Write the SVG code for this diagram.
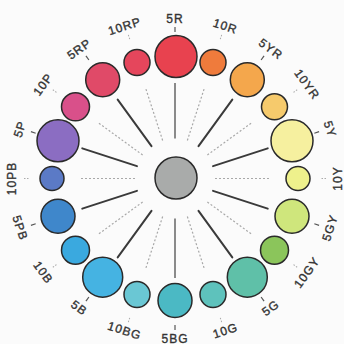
<svg xmlns="http://www.w3.org/2000/svg" width="344" height="344" viewBox="0 0 344 344">
<style>
.c{stroke:#2a2a2a;stroke-width:1.5}
.t{font-family:"Liberation Sans",Arial,sans-serif;font-size:12px;fill:#333;stroke:#333;stroke-width:0.35;text-anchor:middle;dominant-baseline:central;letter-spacing:1px}
.s{stroke:#3a3a3a;stroke-width:2;stroke-linecap:round}
.sv{stroke:#8a8a8a;stroke-width:2}
.d{stroke:#a8a8a8;stroke-width:1.2;stroke-dasharray:2 2}
.tk{stroke:#555;stroke-width:1.2}
.tkd{stroke:#aaa;stroke-width:1;stroke-dasharray:1.5 1.5}
</style>
<rect width="344" height="344" fill="#fbfbfb"/>
<g id="connectors">
<line class="sv" x1="175" y1="138.5" x2="175" y2="83" transform="rotate(0 175 178.5)"/>
<line class="d" x1="175" y1="138.5" x2="175" y2="84" transform="rotate(18 175 178.5)"/>
<line class="s" x1="175" y1="138.5" x2="175" y2="81" transform="rotate(36 175 178.5)"/>
<line class="d" x1="175" y1="138.5" x2="175" y2="84" transform="rotate(54 175 178.5)"/>
<line class="s" x1="175" y1="138.5" x2="175" y2="81" transform="rotate(72 175 178.5)"/>
<line class="d" x1="175" y1="138.5" x2="175" y2="84" transform="rotate(90 175 178.5)"/>
<line class="s" x1="175" y1="138.5" x2="175" y2="81" transform="rotate(108 175 178.5)"/>
<line class="d" x1="175" y1="138.5" x2="175" y2="84" transform="rotate(126 175 178.5)"/>
<line class="s" x1="175" y1="138.5" x2="175" y2="81" transform="rotate(144 175 178.5)"/>
<line class="d" x1="175" y1="138.5" x2="175" y2="84" transform="rotate(162 175 178.5)"/>
<line class="sv" x1="175" y1="138.5" x2="175" y2="79" transform="rotate(180 175 178.5)"/>
<line class="d" x1="175" y1="138.5" x2="175" y2="84" transform="rotate(198 175 178.5)"/>
<line class="s" x1="175" y1="138.5" x2="175" y2="81" transform="rotate(216 175 178.5)"/>
<line class="d" x1="175" y1="138.5" x2="175" y2="84" transform="rotate(234 175 178.5)"/>
<line class="s" x1="175" y1="138.5" x2="175" y2="81" transform="rotate(252 175 178.5)"/>
<line class="d" x1="175" y1="138.5" x2="175" y2="84" transform="rotate(270 175 178.5)"/>
<line class="s" x1="175" y1="138.5" x2="175" y2="81" transform="rotate(288 175 178.5)"/>
<line class="d" x1="175" y1="138.5" x2="175" y2="84" transform="rotate(306 175 178.5)"/>
<line class="s" x1="175" y1="138.5" x2="175" y2="81" transform="rotate(324 175 178.5)"/>
<line class="d" x1="175" y1="138.5" x2="175" y2="84" transform="rotate(342 175 178.5)"/>
</g>
<g id="center"><circle class="c" cx="176" cy="178" r="21" fill="#a9abaa"/></g>
<g id="n5R"><circle class="c" cx="176" cy="56.5" r="21" fill="#e8424f"/><line class="tk" x1="175" y1="32" x2="175" y2="27" transform="rotate(0 175 178.5)"/><text class="t" transform="translate(175 18.5)">5R</text></g>
<g id="n10R"><circle class="c" cx="213" cy="62.5" r="13" fill="#ef7b3c"/><line class="tkd" x1="175" y1="32" x2="175" y2="27" transform="rotate(18 175 178.5)"/><text class="t" transform="translate(225.4 26.3) rotate(18)">10R</text></g>
<g id="n5YR"><circle class="c" cx="247.3" cy="79.8" r="17" fill="#f4a74c"/><line class="tk" x1="175" y1="32" x2="175" y2="27" transform="rotate(36 175 178.5)"/><text class="t" transform="translate(270.8 49.1) rotate(36)">5YR</text></g>
<g id="n10YR"><circle class="c" cx="274.5" cy="106.8" r="13" fill="#f6ca6c"/><line class="tkd" x1="175" y1="32" x2="175" y2="27" transform="rotate(54 175 178.5)"/><text class="t" transform="translate(306.9 84.5) rotate(54)">10YR</text></g>
<g id="n5Y"><circle class="c" cx="292" cy="140.8" r="21" fill="#f6f09f"/><line class="tk" x1="175" y1="32" x2="175" y2="27" transform="rotate(72 175 178.5)"/><text class="t" transform="translate(330 129.1) rotate(72)">5Y</text></g>
<g id="n10Y"><circle class="c" cx="298" cy="178.5" r="12" fill="#eef18c"/><line class="tkd" x1="175" y1="32" x2="175" y2="27" transform="rotate(90 175 178.5)"/><text class="t" transform="translate(338 178.5) rotate(-90)">10Y</text></g>
<g id="n5GY"><circle class="c" cx="292" cy="216.2" r="17" fill="#cfe67c"/><line class="tk" x1="175" y1="32" x2="175" y2="27" transform="rotate(108 175 178.5)"/><text class="t" transform="translate(330 227.9) rotate(-72)">5GY</text></g>
<g id="n10GY"><circle class="c" cx="274.5" cy="250.2" r="14" fill="#8bc55b"/><line class="tkd" x1="175" y1="32" x2="175" y2="27" transform="rotate(126 175 178.5)"/><text class="t" transform="translate(306.9 272.5) rotate(-54)">10GY</text></g>
<g id="n5G"><circle class="c" cx="247.3" cy="277.2" r="20" fill="#5fc0a8"/><line class="tk" x1="175" y1="32" x2="175" y2="27" transform="rotate(144 175 178.5)"/><text class="t" transform="translate(270.8 307.9) rotate(-36)">5G</text></g>
<g id="n10G"><circle class="c" cx="213" cy="294.5" r="13" fill="#5ec2bc"/><line class="tkd" x1="175" y1="32" x2="175" y2="27" transform="rotate(162 175 178.5)"/><text class="t" transform="translate(225.4 330.7) rotate(-18)">10G</text></g>
<g id="n5BG"><circle class="c" cx="175" cy="300.5" r="17" fill="#4bb9c4"/><line class="tk" x1="175" y1="32" x2="175" y2="27" transform="rotate(180 175 178.5)"/><text class="t" transform="translate(175 338.5)">5BG</text></g>
<g id="n10BG"><circle class="c" cx="137" cy="294.5" r="13" fill="#6ac7d4"/><line class="tkd" x1="175" y1="32" x2="175" y2="27" transform="rotate(198 175 178.5)"/><text class="t" transform="translate(124.6 330.7) rotate(18)">10BG</text></g>
<g id="n5B"><circle class="c" cx="102.7" cy="277.2" r="20" fill="#45b3e2"/><line class="tk" x1="175" y1="32" x2="175" y2="27" transform="rotate(216 175 178.5)"/><text class="t" transform="translate(79.2 307.9) rotate(36)">5B</text></g>
<g id="n10B"><circle class="c" cx="75.5" cy="250.2" r="14" fill="#3aa9df"/><line class="tkd" x1="175" y1="32" x2="175" y2="27" transform="rotate(234 175 178.5)"/><text class="t" transform="translate(43.1 272.5) rotate(54)">10B</text></g>
<g id="n5PB"><circle class="c" cx="58" cy="216.2" r="17" fill="#3f87cb"/><line class="tk" x1="175" y1="32" x2="175" y2="27" transform="rotate(252 175 178.5)"/><text class="t" transform="translate(20 227.9) rotate(72)">5PB</text></g>
<g id="n10PB"><circle class="c" cx="52" cy="178.5" r="12" fill="#5b7ac6"/><line class="tkd" x1="175" y1="32" x2="175" y2="27" transform="rotate(270 175 178.5)"/><text class="t" transform="translate(12 178.5) rotate(-90)">10PB</text></g>
<g id="n5P"><circle class="c" cx="58" cy="140.8" r="21" fill="#8b6dc2"/><line class="tk" x1="175" y1="32" x2="175" y2="27" transform="rotate(288 175 178.5)"/><text class="t" transform="translate(20 129.1) rotate(-72)">5P</text></g>
<g id="n10P"><circle class="c" cx="75.5" cy="106.8" r="14" fill="#d9508a"/><line class="tkd" x1="175" y1="32" x2="175" y2="27" transform="rotate(306 175 178.5)"/><text class="t" transform="translate(43.1 84.5) rotate(-54)">10P</text></g>
<g id="n5RP"><circle class="c" cx="102.7" cy="79.8" r="17" fill="#e04a68"/><line class="tk" x1="175" y1="32" x2="175" y2="27" transform="rotate(324 175 178.5)"/><text class="t" transform="translate(79.2 49.1) rotate(-36)">5RP</text></g>
<g id="n10RP"><circle class="c" cx="137" cy="62.5" r="13" fill="#e5465c"/><line class="tkd" x1="175" y1="32" x2="175" y2="27" transform="rotate(342 175 178.5)"/><text class="t" transform="translate(124.6 26.3) rotate(-18)">10RP</text></g>
</svg>
